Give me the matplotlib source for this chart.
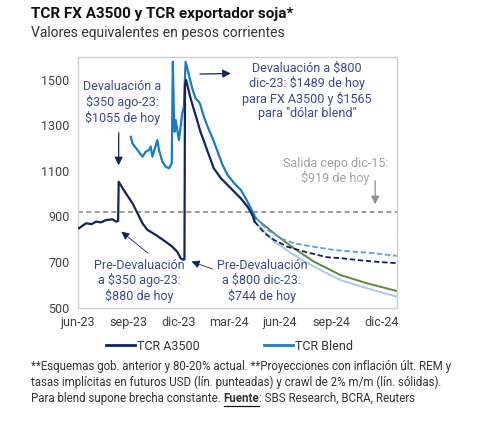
import matplotlib
matplotlib.use("Agg")
import matplotlib.pyplot as plt
import pandas as pd
from matplotlib.lines import Line2D

plt.rcParams["font.family"] = ["Roboto", "DejaVu Sans"]

# TCR A3500 (observado)
a3500_dates = ["2023-06-03", "2023-06-16", "2023-06-26", "2023-07-04", "2023-07-13",
               "2023-07-22", "2023-08-03", "2023-08-09", "2023-08-13", "2023-08-14",
               "2023-08-27", "2023-09-08", "2023-09-17", "2023-09-26", "2023-10-05",
               "2023-10-20", "2023-11-07", "2023-11-19", "2023-11-28", "2023-12-04",
               "2023-12-09", "2023-12-11", "2023-12-12", "2023-12-14", "2023-12-22",
               "2023-12-31", "2024-01-09", "2024-01-22", "2024-02-02", "2024-02-15",
               "2024-03-04", "2024-03-22", "2024-04-03", "2024-04-12", "2024-04-16"]
a3500_vals = [848, 870, 866, 877, 874, 884, 887, 877, 880, 1052,
              1001, 958, 914, 870, 841, 819, 789, 767, 745, 717,
              710, 712, 1480, 1498, 1418, 1345, 1271, 1184, 1111, 1067,
              1023, 979, 943, 906, 877]

# TCR Blend (observado)
blend_dates = ["2023-09-05", "2023-09-08", "2023-09-17", "2023-09-26", "2023-10-02",
               "2023-10-08", "2023-10-11", "2023-10-14", "2023-10-23", "2023-10-26",
               "2023-11-01", "2023-11-07", "2023-11-13", "2023-11-18", "2023-11-20",
               "2023-11-22", "2023-11-23", "2023-11-25", "2023-12-01", "2023-12-04",
               "2023-12-07", "2023-12-10", "2023-12-13", "2023-12-19", "2023-12-25",
               "2023-12-31", "2024-01-06", "2024-01-09", "2024-01-15", "2024-01-22",
               "2024-01-31", "2024-02-09", "2024-02-18", "2024-02-27", "2024-03-10",
               "2024-03-22", "2024-04-03", "2024-04-12", "2024-04-18"]
blend_vals = [1249, 1220, 1191, 1162, 1184, 1191, 1206, 1162, 1235, 1191,
              1140, 1118, 1111, 1133, 1578, 1337, 1271, 1323, 1235, 1293,
              1352, 1381, 1578, 1520, 1462, 1418, 1403, 1388, 1337, 1293,
              1242, 1184, 1125, 1082, 1045, 1016, 965, 921, 892]

# Proyecciones
proj_a3500_dates = ["2024-04-16", "2024-05-04", "2024-05-21", "2024-06-14", "2024-07-08",
                    "2024-08-01", "2024-08-25", "2024-09-18", "2024-10-18", "2024-11-17",
                    "2024-12-29"]
fut_a3500_vals = [877, 826, 797, 767, 750, 735, 721, 717, 709, 702, 695]

proj_blend_dates = ["2024-04-18", "2024-05-09", "2024-06-02", "2024-06-26", "2024-08-01",
                    "2024-09-06", "2024-10-12", "2024-11-17", "2024-12-29"]
fut_blend_vals = [892, 841, 804, 782, 767, 753, 745, 739, 727]

crawl_dates_a = ["2024-04-16", "2024-05-21", "2024-06-26", "2024-08-01", "2024-09-18",
                 "2024-11-05", "2024-12-29"]
crawl_a3500_vals = [877, 790, 731, 680, 621, 585, 548]
crawl_dates_b = ["2024-04-18", "2024-05-21", "2024-06-26", "2024-08-01", "2024-09-18",
                 "2024-11-05", "2024-12-29"]
crawl_blend_vals = [892, 826, 760, 702, 643, 607, 573]

cepo_level = 919
tick_dates = ["2023-06-01", "2023-09-01", "2023-12-01", "2024-03-01",
              "2024-06-01", "2024-09-01", "2024-12-01"]
tick_labels = ["jun-23", "sep-23", "dic-23", "mar-24", "jun-24", "sep-24", "dic-24"]

NAVY = "#12245f"
BLUE = "#1b7bc4"
LIGHT = "#a8c8ec"
GREEN = "#5b8a3c"
DASHBLUE = "#5a9ee0"
TXT = "#3b4a8f"

d = pd.to_datetime

fig = plt.figure(figsize=(4.86, 4.22), dpi=100)
ax = fig.add_axes([0.160, 0.271, 0.6575, 0.5945])

ax.axhline(cepo_level, color="#8c8c8c", lw=1.2, ls=(0, (3, 2)), zorder=1)
ax.plot(d(crawl_dates_a), crawl_a3500_vals, color=LIGHT, lw=1.4, zorder=2)
ax.plot(d(crawl_dates_b), crawl_blend_vals, color=GREEN, lw=1.4, zorder=2)
ax.plot(d(proj_blend_dates), fut_blend_vals, color=DASHBLUE, lw=1.3, ls=(0, (3, 1.5)), zorder=2)
ax.plot(d(proj_a3500_dates), fut_a3500_vals, color=NAVY, lw=1.3, ls=(0, (3, 1.5)), zorder=2)
ax.plot(d(blend_dates), blend_vals, color=BLUE, lw=1.6, zorder=3)
ax.plot(d(a3500_dates), a3500_vals, color=NAVY, lw=1.6, zorder=4)

ax.set_xlim(d("2023-06-01"), d("2024-12-30"))
ax.set_ylim(500, 1600)
ax.set_yticks([500, 700, 900, 1100, 1300, 1500])
ax.set_xticks(d(tick_dates))
ax.set_xticklabels(tick_labels)
ax.tick_params(length=0, labelsize=9, labelcolor="#404040", pad=6)
for s in ax.spines.values():
    s.set_color("#d0d0d0")
    s.set_linewidth(1)

arrow = dict(arrowstyle="-|>", color=NAVY, lw=0.9, mutation_scale=12)
ann_kw = dict(ha="center", va="center", fontsize=9, linespacing=1.15)

ax.text(d("2023-08-21"), 1400, "Devaluación a\n$350 ago-23:\n$1055 de hoy", color=TXT, **ann_kw)
ax.annotate("", xy=(d("2023-08-14"), 1112), xytext=(d("2023-08-14"), 1279), arrowprops=arrow)

ax.text(d("2023-09-20"), 617, "Pre-Devaluación\na $350 ago-23:\n$880 de hoy", color=TXT, **ann_kw)
ax.annotate("", xy=(d("2023-08-15"), 841), xytext=(d("2023-10-10"), 731),
            arrowprops=dict(arrowstyle="-|>", color=NAVY, lw=0.6, mutation_scale=12))

ax.text(d("2024-04-29"), 617, "Pre-Devaluación\na $800 dic-23:\n$744 de hoy", color=TXT, **ann_kw)
ax.annotate("", xy=(d("2023-12-19"), 706), xytext=(d("2024-02-05"), 665),
            arrowprops=dict(arrowstyle="-|>", color=NAVY, lw=0.6, mutation_scale=12))

ax.text(d("2024-07-20"), 1450,
        "Devaluación a $800\ndic-23: $1489 de hoy\npara FX A3500 y $1565\npara \"dólar blend\"",
        color=TXT, **ann_kw)
ax.annotate("", xy=(d("2024-03-09"), 1527), xytext=(d("2024-01-03"), 1524), arrowprops=arrow)

ax.text(d("2024-09-09"), 1099, "Salida cepo dic-15:\n$919 de hoy", color="#a0a0a0", **ann_kw)
ax.annotate("", xy=(d("2024-11-20"), 941), xytext=(d("2024-11-20"), 1069),
            arrowprops=dict(arrowstyle="-|>", color="#8c8c8c", lw=0.9, mutation_scale=12))

fig.text(0.064, 0.966, "TCR FX A3500 y TCR exportador soja*", fontsize=11, fontweight="bold",
         color="#111111", va="center")
fig.text(0.064, 0.921, "Valores equivalentes en pesos corrientes", fontsize=10,
         color="#333333", va="center")

handles = [Line2D([], [], color=NAVY, lw=2), Line2D([], [], color=BLUE, lw=2)]
fig.legend(handles, ["TCR A3500", "TCR Blend"], loc="center", bbox_to_anchor=(0.472, 0.18),
           ncol=2, frameon=False, fontsize=9, handlelength=2.3, handletextpad=0.15,
           columnspacing=5.2, labelcolor="#333333")

foot_kw = dict(fontsize=8.3, color="#333333", va="center")
fig.text(0.064, 0.132, "**Esquemas gob. anterior y 80-20% actual. **Proyecciones con inflación últ. REM y", **foot_kw)
fig.text(0.064, 0.094, "tasas implícitas en futuros USD (lín. punteadas) y crawl de 2% m/m (lín. sólidas).", **foot_kw)
t1 = fig.text(0.064, 0.056, "Para blend supone brecha constante. ", **foot_kw)

# "Fuente" en negrita y subrayado, colocado a continuación del texto anterior
fig.canvas.draw()
r = fig.canvas.get_renderer()
bb = t1.get_window_extent(r)
x_f = bb.x1 / fig.bbox.width
t2 = fig.text(x_f, 0.056, "Fuente", fontweight="bold", **foot_kw)
bb2 = t2.get_window_extent(r)
x_e = bb2.x1 / fig.bbox.width
fig.add_artist(Line2D([x_f, x_e], [0.037, 0.037], color="#111111", lw=0.9,
                      transform=fig.transFigure))
fig.text(x_e, 0.056, ": SBS Research, BCRA, Reuters", **foot_kw)

fig.savefig("out.png", dpi=100)
